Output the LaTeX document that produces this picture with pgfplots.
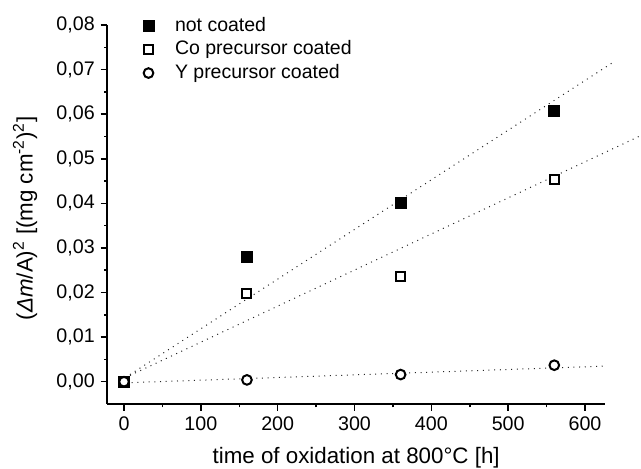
\documentclass[border=0pt]{standalone}
\usepackage{pgfplots}
\pgfplotsset{compat=1.18}
\usepackage{fontspec}
\setmainfont{Liberation Sans}
\usetikzlibrary{calc}

% measured values (h, (dm/A)^2)
\pgfplotstableread{
x y
0   0
160 0.0279
360 0.0400
560 0.0608
}\notcoated
\pgfplotstableread{
x y
0   0
160 0.0197
360 0.0237
560 0.0454
}\cocoated
\pgfplotstableread{
x y
0   0
160 0.0004
360 0.0016
560 0.0037
}\ycoated

\begin{document}
\begin{tikzpicture}
\begin{axis}[
  name=ax,
  scale only axis, width=298.6pt, height=227.4pt,
  xmin=-21.7, xmax=626, ymin=-0.0050, ymax=0.08,
  axis x line*=bottom, axis y line*=left,
  axis line style={line width=1.1pt, -},
  xtick={0,100,200,300,400,500,600}, minor x tick num=1,
  ytick={0,0.01,0.02,0.03,0.04,0.05,0.06,0.07,0.08}, minor y tick num=1,
  scaled y ticks=false,
  tick align=outside, major tick length=4pt, minor tick length=2pt,
  every tick/.style={black, line width=0.9pt},
  /pgf/number format/assume math mode=true,
  yticklabel style={/pgf/number format/.cd, fixed, fixed zerofill, precision=2, use comma},
  ticklabel style={font=\fontsize{11.8}{13}\selectfont},
  xlabel={time of oxidation at 800°C [h]},
  ylabel={(\textit{Δm}/A)\textsuperscript{2} [(mg cm\textsuperscript{-2})\textsuperscript{2}]},
  every axis x label/.style={at={(axis description cs:0.5,-0.143)}, anchor=center},
  every axis y label/.style={at={(axis description cs:-0.1654,0.49)}, anchor=center, rotate=90},
  label style={font=\fontsize{13.4}{15}\selectfont},
  clip=false,
  legend cell align=left,
  legend style={draw=none, fill=none, inner sep=0pt, column sep=12.6pt,
    font=\fontsize{11.7}{13}\selectfont,
    nodes={inner xsep=0pt, inner ysep=1.7pt, text height=8.4pt, text depth=2.2pt},
    at={(0.071,1.028)}, anchor=north west},
]
% fitted lines
\addplot[forget plot, black!85, line width=0.6pt, dash pattern=on 0.6pt off 2.8pt] coordinates {(7.8,0.0016) (639,0.0719)};
\addplot[forget plot, black!85, line width=0.6pt, dash pattern=on 0.6pt off 2.8pt] coordinates {(7.8,0.0014) (690,0.0566)};
\addplot[forget plot, black!85, line width=0.6pt, dash pattern=on 0.6pt off 2.8pt] coordinates {(10,-0.0002) (627,0.0035)};
% data
\addplot[only marks, mark=square*, mark size=3.3pt, mark options={fill=black, draw=black, line width=0pt}] table {\notcoated};
\addplot[only marks, mark=square*, mark size=2.7pt, mark options={fill=white, draw=black, line width=1.2pt}] table {\cocoated};
\addplot[only marks, mark=*, mark size=2.9pt, mark options={fill=white, draw=black, line width=1.2pt}] table {\ycoated};
\legend{not coated, Co precursor coated, Y precursor coated}
\end{axis}
\pgfresetboundingbox
\path ($(ax.south west)+(-64.4pt,-39pt)$) rectangle ($(ax.north east)+(21.6pt,15pt)$);
\end{tikzpicture}
\end{document}
